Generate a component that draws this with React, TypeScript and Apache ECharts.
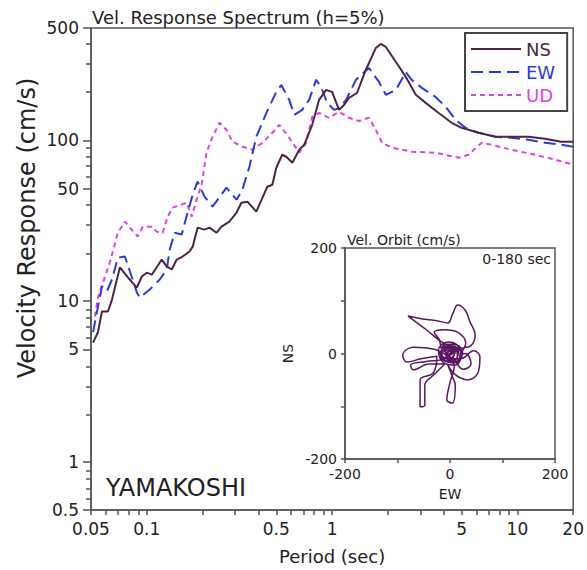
import React, { useEffect, useRef } from "react";
import * as echarts from "echarts";

const FONT = "DejaVu Sans, sans-serif";
const NS_C = "#4e2446";
const EW_C = "#2b3ad8";
const UD_C = "#e23fe6";
const ORBIT_C = "#5a1660";
const AXIS_C = "#555555";
const TEXT_C = "#222222";

// Velocity response spectra (h=5%): period (sec) and velocity (cm/s)
const nsPeriod = [0.0513, 0.0545, 0.0573, 0.0617, 0.0649, 0.0716, 0.0791, 0.0884, 0.094, 0.1, 0.1064, 0.1132, 0.1204, 0.1281, 0.1363, 0.145, 0.156, 0.17, 0.177, 0.188, 0.205, 0.218, 0.238, 0.253, 0.279, 0.305, 0.324, 0.349, 0.39, 0.421, 0.447, 0.476, 0.5, 0.538, 0.566, 0.61, 0.665, 0.707, 0.781, 0.851, 0.929, 1.0, 1.091, 1.16, 1.234, 1.363, 1.52, 1.72, 1.83, 1.95, 2.21, 2.5, 2.83, 3.2, 3.76, 4.42, 5.0, 6.17, 7.62, 9.29, 11.46, 14.1, 17.2, 20];
const nsVel = [5.5, 6.4, 8.6, 8.6, 10.2, 16.2, 14.0, 12.1, 14.2, 15.0, 14.6, 16.2, 18.1, 16.4, 15.7, 18.1, 18.9, 20.3, 21.8, 28.6, 27.8, 28.6, 26.6, 29.0, 31.2, 35.5, 40.9, 41.5, 36.0, 44.0, 51.4, 52.9, 67.5, 81.3, 79.0, 72.5, 87.3, 93.8, 124.8, 178.6, 206, 200, 154.8, 166, 183.8, 197, 274, 375, 398, 381, 307, 248, 192, 171, 148, 128.5, 119.6, 111.4, 105.2, 105.2, 105.2, 102.2, 97.9, 97.9];

const ewPeriod = [0.0513, 0.0538, 0.0573, 0.0609, 0.0649, 0.0698, 0.0762, 0.081, 0.0884, 0.0917, 0.1038, 0.1175, 0.1281, 0.133, 0.1414, 0.1543, 0.166, 0.177, 0.188, 0.205, 0.2265, 0.253, 0.269, 0.305, 0.328, 0.358, 0.39, 0.442, 0.5, 0.532, 0.587, 0.625, 0.69, 0.752, 0.82, 0.873, 0.94, 1.026, 1.091, 1.19, 1.346, 1.58, 1.79, 1.95, 2.21, 2.5, 2.69, 3.05, 3.62, 4.1, 4.64, 5.25, 6.17, 7.62, 9.29, 11.46, 14.1, 17.2, 20];
const ewVel = [6.4, 8.5, 12.3, 11.5, 13.6, 18.6, 18.9, 15.3, 11.3, 10.5, 11.8, 13.6, 15.7, 20.9, 26.6, 25.9, 35.5, 45.9, 55.3, 44.6, 38.7, 45.9, 50.7, 42.7, 49.3, 68.5, 105.2, 148, 200, 221, 178.6, 144, 154.8, 178.6, 238, 215, 171, 154.8, 159, 178.6, 238, 282, 231, 192, 206, 266, 238, 212, 186, 161.5, 134, 119.6, 111.4, 105.2, 103.7, 100.7, 96.5, 93.8, 91.2];

const udPeriod = [0.0525, 0.0545, 0.058, 0.0632, 0.0698, 0.0762, 0.081, 0.0894, 0.0952, 0.1064, 0.1132, 0.1219, 0.1297, 0.138, 0.1543, 0.1641, 0.1746, 0.1858, 0.1976, 0.21, 0.2265, 0.247, 0.269, 0.29, 0.328, 0.3715, 0.421, 0.476, 0.519, 0.587, 0.665, 0.725, 0.781, 0.851, 0.964, 1.091, 1.234, 1.397, 1.58, 1.72, 1.86, 2.1, 2.69, 3.62, 4.82, 5.45, 6.41, 7.25, 9.29, 12.5, 16.0, 20];
const udVel = [8.0, 10.5, 13.0, 17.4, 26.6, 31.2, 28.6, 25.2, 29.0, 29.0, 27.0, 26.6, 33.5, 38.1, 39.8, 40.9, 33.5, 42.7, 52.9, 83.7, 105.2, 128.5, 116.3, 97.9, 91.2, 87.3, 96.5, 111.4, 124.8, 103.7, 83.7, 96.5, 140, 148, 138, 150.4, 138, 132, 138, 116.3, 96.5, 89.9, 84.9, 83.7, 77.9, 81.3, 96.5, 93.8, 87.3, 81.3, 75.7, 70.5];

// Velocity orbit (cm/s), 0-180 sec
const orbitEW = [0, 12, -10, -18, 6, 20, 14, -4, -22, -14, 10, 24, -13, -45, -80, -55, -25, -4, 5, 15, 29, 38, 48, 40, 20, 0, -8, 10, 16, -6, -16, 20, 45, 57, 53, 34, 10, -5, 5, 10, 4, -6, 0, 8, -4, -30, -70, -90, -82, -55, -25, -32, -57, -57, -48, -48, -30, -10, -40, -70, -75, -45, -15, -20, -30, -10, 15, 30, 18, 30, 40, 25, 10, -12, 8, 14, -6, -16, -4, 10, 2, -8, 4, 0, -14, 18, -20, 12, 20, -8, -18, 6, 16, -12, 2, 10, -6, 0];
const orbitNS = [0, 10, 14, -6, -18, -2, 16, 22, 6, -16, -22, 4, 20, 45, 71, 66, 62, 58, 75, 92, 82, 60, 35, 15, 10, 5, -8, -12, 6, 12, -4, -10, 5, -7, -37, -50, -40, -20, -45, -60, -94, -88, -55, -25, -6, 8, 12, -3, -16, -10, -5, -37, -50, -101, -98, -60, -40, -20, -20, -31, -22, -15, -10, 25, 40, 45, 40, 20, -2, 0, -20, -30, -15, 8, 14, -8, -14, 2, 10, 4, -8, 0, 6, 0, -12, 8, 2, -18, 10, 18, -6, -16, 4, 12, -14, 6, -4, 0];

const xLabelValues = [0.05, 0.1, 0.5, 1, 5, 10, 20];
const xTickValues = [0.05, 0.06, 0.07, 0.08, 0.09, 0.1, 0.2, 0.3, 0.4, 0.5, 0.6, 0.7, 0.8, 0.9, 1, 2, 3, 4, 5, 6, 7, 8, 9, 10, 20];
const yLabelValues = [0.5, 1, 5, 10, 50, 100, 500];
const yMinorTickValues = [0.6, 0.7, 0.8, 0.9, 2, 3, 4, 6, 7, 8, 9, 20, 30, 40, 60, 70, 80, 90, 200, 300, 400];

const fmtNum = (v: number) => String(Number(v.toPrecision(6)));

export default function App() {
  const ref = useRef<HTMLDivElement>(null);
  useEffect(() => {
    if (!ref.current) return;
    const chart = echarts.init(ref.current, null, { renderer: "svg" });
    const axisLine = { onZero: false, lineStyle: { color: AXIS_C, width: 1.5 } };
    const option: any = {
      animation: false,
      backgroundColor: "#ffffff",
      textStyle: { fontFamily: FONT },
      grid: [
        { left: 91, top: 28, width: 484, height: 484, show: true, borderColor: AXIS_C, borderWidth: 1.5 },
        { left: 91, top: 28, width: 484, height: 484, show: false },
        { left: 345, top: 248, width: 210, height: 211, show: true, borderColor: AXIS_C, borderWidth: 1.5 },
      ],
      legend: {
        data: [
          { name: "NS", textStyle: { color: NS_C } },
          { name: "EW", textStyle: { color: EW_C } },
          { name: "UD", textStyle: { color: UD_C } },
        ],
        orient: "vertical",
        left: 465,
        top: 33,
        itemWidth: 50,
        itemHeight: 14,
        itemGap: 5,
        padding: [7, 12, 7, 5],
        borderColor: "#444",
        borderWidth: 2,
        selectedMode: false,
        itemStyle: { color: "rgba(0,0,0,0)", borderWidth: 0, opacity: 0 },
        textStyle: { fontFamily: FONT, fontSize: 18 },
      },
      xAxis: [
        {
          type: "log", logBase: 10, gridIndex: 0, min: 0.05, max: 20,
          name: "Period (sec)", nameLocation: "middle", nameGap: 37,
          nameTextStyle: { fontFamily: FONT, fontSize: 18, color: TEXT_C },
          axisLine,
          axisTick: { customValues: xTickValues, length: 5, lineStyle: { color: AXIS_C, width: 1.5 } },
          axisLabel: { customValues: xLabelValues, formatter: (v: number) => fmtNum(v), fontFamily: FONT, fontSize: 17, color: TEXT_C, margin: 10 },
          splitLine: { show: false },
        },
        { type: "log", logBase: 10, gridIndex: 1, min: 0.05, max: 20, show: false },
        {
          type: "value", gridIndex: 2, min: -200, max: 200, interval: 100,
          name: "EW", nameLocation: "middle", nameGap: 28,
          nameTextStyle: { fontFamily: FONT, fontSize: 14, color: TEXT_C },
          axisLine,
          axisTick: { length: 4, lineStyle: { color: AXIS_C, width: 1.5 } },
          axisLabel: { formatter: (v: number) => (v % 200 === 0 ? String(v) : ""), fontFamily: FONT, fontSize: 14, color: TEXT_C, margin: 8 },
          splitLine: { show: false },
        },
      ],
      yAxis: [
        {
          type: "log", logBase: 10, gridIndex: 0, min: 0.5, max: 500,
          axisLine,
          axisTick: { customValues: yLabelValues, length: 8, lineStyle: { color: AXIS_C, width: 1.5 } },
          axisLabel: { customValues: yLabelValues, formatter: (v: number) => fmtNum(v), fontFamily: FONT, fontSize: 17, color: TEXT_C, margin: 12 },
          splitLine: { show: false },
        },
        {
          type: "log", logBase: 10, gridIndex: 1, min: 0.5, max: 500,
          axisLine: { show: false },
          axisTick: { customValues: yMinorTickValues, length: 5, lineStyle: { color: AXIS_C, width: 1.5 } },
          axisLabel: { show: false },
          splitLine: { show: false },
        },
        {
          type: "value", gridIndex: 2, min: -200, max: 200, interval: 100,
          name: "NS", nameLocation: "middle", nameGap: 50, nameRotate: 90,
          nameTextStyle: { fontFamily: FONT, fontSize: 14, color: TEXT_C },
          axisLine,
          axisTick: { length: 4, lineStyle: { color: AXIS_C, width: 1.5 } },
          axisLabel: { formatter: (v: number) => (v % 200 === 0 ? String(v) : ""), fontFamily: FONT, fontSize: 14, color: TEXT_C, margin: 8 },
          splitLine: { show: false },
        },
      ],
      series: [
        {
          type: "line", name: "NS", xAxisIndex: 0, yAxisIndex: 0, symbol: "none", showSymbol: false,
          data: nsPeriod.map((t, i) => [t, nsVel[i]]),
          lineStyle: { color: NS_C, width: 2 }, itemStyle: { color: NS_C }, z: 4,
        },
        {
          type: "line", name: "EW", xAxisIndex: 0, yAxisIndex: 0, symbol: "none", showSymbol: false,
          data: ewPeriod.map((t, i) => [t, ewVel[i]]),
          lineStyle: { color: EW_C, width: 2, type: [12, 6] }, itemStyle: { color: EW_C }, z: 3,
        },
        {
          type: "line", name: "UD", xAxisIndex: 0, yAxisIndex: 0, symbol: "none", showSymbol: false,
          data: udPeriod.map((t, i) => [t, udVel[i]]),
          lineStyle: { color: UD_C, width: 2, type: [5, 4] }, itemStyle: { color: UD_C }, z: 2,
        },
        {
          type: "line", name: "orbit", xAxisIndex: 2, yAxisIndex: 2, symbol: "none", showSymbol: false,
          smooth: 0.4,
          data: orbitEW.map((x, i) => [x, orbitNS[i]]),
          lineStyle: { color: ORBIT_C, width: 1.5 }, itemStyle: { color: ORBIT_C },
        },
      ],
      graphic: [
        { type: "text", x: 92, y: 17, style: { text: "Vel. Response Spectrum (h=5%)", fontFamily: FONT, fontSize: 18, fill: TEXT_C, verticalAlign: "middle" } },
        { type: "text", x: 27, y: 228, rotation: Math.PI / 2, style: { text: "Velocity Response (cm/s)", fontFamily: FONT, fontSize: 24, fill: TEXT_C, verticalAlign: "middle", align: "center" } },
        { type: "text", x: 106, y: 488, style: { text: "YAMAKOSHI", fontFamily: FONT, fontSize: 24, fill: TEXT_C, verticalAlign: "middle" } },
        { type: "text", x: 347, y: 240, style: { text: "Vel. Orbit (cm/s)", fontFamily: FONT, fontSize: 14, fill: TEXT_C, verticalAlign: "middle" } },
        { type: "text", x: 551, y: 259, style: { text: "0-180 sec", fontFamily: FONT, fontSize: 14, fill: TEXT_C, verticalAlign: "middle", align: "right" } },
      ],
    };
    chart.setOption(option);
    return () => chart.dispose();
  }, []);
  return <div ref={ref} style={{ position: "fixed", left: 0, top: 0, width: 587, height: 570 }} />;
}
